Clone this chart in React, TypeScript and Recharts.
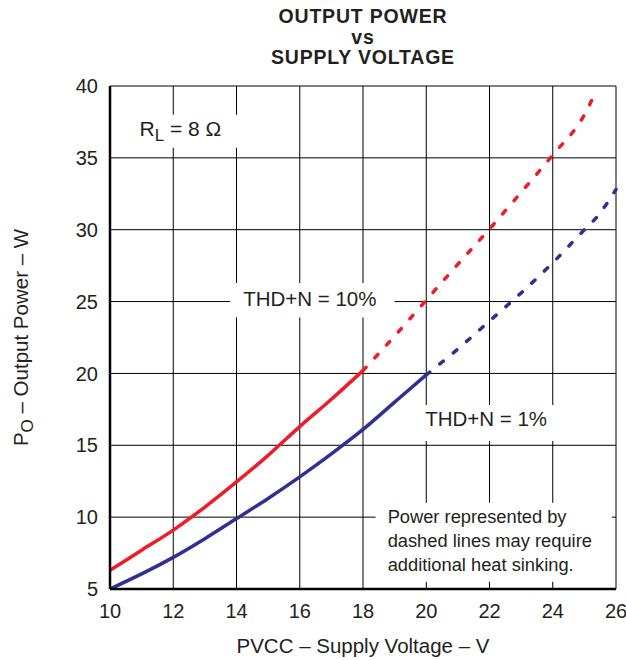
import { LineChart, Line, XAxis, YAxis, CartesianGrid, ReferenceArea, Label } from 'recharts';

const FONT = '"Liberation Sans", Arial, sans-serif';
const TEXT = '#231f20';
const RED = '#ee1c25';
const BLUE = '#2e3192';

// supply voltage (V)
const voltage = [10, 11, 12, 13, 14, 15, 16, 17, 18, 19, 20, 21, 22, 23, 24, 25, 25.4, 26];
// THD+N = 10 %
const thd10Solid = [6.3, 7.7, 9.1, 10.7, 12.45, 14.3, 16.3, 18.2, 20.2, null, null, null, null, null, null, null, null, null];
const thd10Dash = [null, null, null, null, null, null, null, null, 20.2, 22.6, 25.1, 27.6, 30.05, 32.6, 35.2, 38.0, 39.8, null];
// THD+N = 1 %
const thd1Solid = [5.0, 6.05, 7.2, 8.5, 9.9, 11.3, 12.8, 14.4, 16.1, 18.0, 19.9, null, null, null, null, null, null, null];
const thd1Dash = [null, null, null, null, null, null, null, null, null, null, 19.9, 21.7, 23.65, 25.6, 27.7, 30.0, 30.9, 32.8];

const xTicks = [10, 12, 14, 16, 18, 20, 22, 24, 26];
const yTicks = [5, 10, 15, 20, 25, 30, 35, 40];

const data = voltage.map((v, i) => ({
  v,
  r: thd10Solid[i],
  rd: thd10Dash[i],
  b: thd1Solid[i],
  bd: thd1Dash[i],
}));

const tickStyle = { fontSize: 20, fill: TEXT, fontFamily: FONT };

function RlLabel({ viewBox }: any) {
  const { x, y } = viewBox;
  return (
    <text x={x + 20} y={y + 21} fontSize={21} fill={TEXT} fontFamily={FONT}>
      R<tspan fontSize={17} dy={5}>L</tspan>
      <tspan dy={-5}> = 8 Ω</tspan>
    </text>
  );
}

function Thd10Label({ viewBox }: any) {
  const { x, y } = viewBox;
  return (
    <text x={x + 13} y={y + 23} fontSize={20.5} fill={TEXT} fontFamily={FONT}>THD+N = 10%</text>
  );
}

function Thd1Label({ viewBox }: any) {
  const { x, y } = viewBox;
  return (
    <text x={x + 10} y={y + 21} fontSize={20.5} fill={TEXT} fontFamily={FONT}>THD+N = 1%</text>
  );
}

function NoteLabel({ viewBox }: any) {
  const { x, y } = viewBox;
  const lines = ['Power represented by', 'dashed lines may require', 'additional heat sinking.'];
  return (
    <text fontSize={18.3} fill={TEXT} fontFamily={FONT}>
      {lines.map((l, i) => (
        <tspan key={i} x={x + 12} y={y + 20 + i * 24}>{l}</tspan>
      ))}
    </text>
  );
}

function YTitle({ viewBox }: any) {
  const { y, height } = viewBox;
  const cx = 28;
  const cy = y + height / 2;
  return (
    <text x={cx} y={cy} transform={`rotate(-90 ${cx} ${cy})`} textAnchor="middle" fontSize={20.5} fill={TEXT} fontFamily={FONT}>
      P<tspan fontSize={17} dy={5}>O</tspan>
      <tspan dy={-5}> – Output Power – W</tspan>
    </text>
  );
}

export default function App() {
  return (
    <div style={{ position: 'absolute', left: 0, top: 0, width: 626, height: 660, background: '#fff' }}>
      <div
        style={{
          position: 'absolute', left: 110, width: 506, top: 6, textAlign: 'center',
          fontFamily: FONT, fontWeight: 'bold', fontSize: 19.5, letterSpacing: 0.8,
          lineHeight: '20.5px', color: TEXT,
        }}
      >
        OUTPUT POWER<br />vs<br />SUPPLY VOLTAGE
      </div>
      <LineChart width={626} height={660} data={data} margin={{ top: 86, right: 10, bottom: 41, left: 50 }}>
        <CartesianGrid stroke="#000" strokeWidth={1} vertical horizontal />
        <XAxis
          dataKey="v" type="number" domain={[10, 26]} ticks={xTicks}
          tickLine={false} tickSize={0} tickMargin={15} height={30}
          axisLine={{ stroke: '#000', strokeWidth: 2.5 }} tick={tickStyle}
        >
          <Label value="PVCC – Supply Voltage – V" position="bottom" offset={19} style={{ fontSize: 20.5, fill: TEXT, fontFamily: FONT }} />
        </XAxis>
        <XAxis xAxisId="top" orientation="top" dataKey="v" type="number" domain={[10, 26]} ticks={xTicks}
          tick={false} tickLine={false} height={0} axisLine={{ stroke: '#000', strokeWidth: 2 }} />
        <YAxis
          type="number" domain={[5, 40]} ticks={yTicks} width={60}
          tickLine={false} tickSize={0} tickMargin={12}
          axisLine={{ stroke: '#000', strokeWidth: 2.5 }} tick={tickStyle}
        >
          <Label content={YTitle} />
        </YAxis>
        <YAxis yAxisId="right" orientation="right" type="number" domain={[5, 40]} ticks={yTicks}
          tick={false} tickLine={false} width={0} axisLine={{ stroke: '#000', strokeWidth: 2 }} />

        <ReferenceArea x1={10.3} x2={15} y1={35.7} y2={38} fill="#fff" fillOpacity={1} stroke="none" label={RlLabel} />
        <ReferenceArea x1={13.8} x2={19} y1={23.9} y2={26.3} fill="#fff" fillOpacity={1} stroke="none" label={Thd10Label} />
        <ReferenceArea x1={19.65} x2={24.4} y1={15.3} y2={17.8} fill="#fff" fillOpacity={1} stroke="none" label={Thd1Label} />
        <ReferenceArea x1={18.4} x2={25.87} y1={5.5} y2={11} fill="#fff" fillOpacity={1} stroke="none" label={NoteLabel} />

        <Line type="monotone" dataKey="r" stroke={RED} strokeWidth={3.5} dot={false} isAnimationActive={false} />
        <Line type="monotone" dataKey="rd" stroke={RED} strokeWidth={3.5} strokeDasharray="4.5 13" strokeLinecap="round" dot={false} isAnimationActive={false} />
        <Line type="monotone" dataKey="b" stroke={BLUE} strokeWidth={3.5} dot={false} isAnimationActive={false} />
        <Line type="monotone" dataKey="bd" stroke={BLUE} strokeWidth={3.5} strokeDasharray="4.5 13" strokeLinecap="round" dot={false} isAnimationActive={false} />
      </LineChart>
    </div>
  );
}
